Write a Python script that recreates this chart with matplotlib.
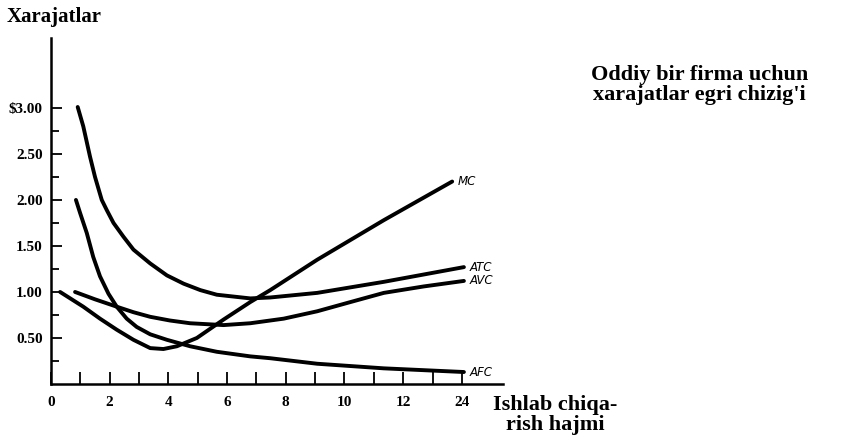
import matplotlib
matplotlib.use("Agg")
import matplotlib.pyplot as plt
from matplotlib.ticker import FixedLocator

# values (output, cost in $)
atc_q = [0.91, 1.10, 1.33, 1.50, 1.73, 1.90, 2.13, 2.47, 2.81, 3.38, 3.95, 4.52, 5.09,
         5.65, 6.79, 7.47, 9.07, 11.34, 14.07]
atc_c = [3.01, 2.80, 2.47, 2.25, 2.00, 1.89, 1.75, 1.60, 1.46, 1.31, 1.18, 1.09, 1.02,
         0.97, 0.93, 0.94, 0.99, 1.11, 1.27]

avc_q = [0.82, 1.50, 2.24, 2.81, 3.38, 4.05, 4.74, 5.88, 6.79, 7.93, 9.07, 10.2, 11.34, 12.7, 14.07]
avc_c = [1.00, 0.92, 0.84, 0.78, 0.73, 0.69, 0.66, 0.64, 0.66, 0.71, 0.79, 0.89, 0.99, 1.06, 1.12]

mc_q = [0.31, 1.10, 1.67, 2.24, 2.81, 3.38, 3.83, 4.29, 4.97, 5.88, 6.79, 7.47, 9.07,
        11.34, 13.67]
mc_c = [1.00, 0.84, 0.71, 0.59, 0.48, 0.39, 0.38, 0.41, 0.50, 0.70, 0.89, 1.02, 1.35,
        1.78, 2.20]

afc_q = [0.85, 0.99, 1.22, 1.44, 1.67, 1.96, 2.24, 2.58, 2.92, 3.38, 3.95, 4.74, 5.65,
         6.79, 7.47, 9.07, 11.34, 14.07]
afc_c = [2.00, 1.86, 1.64, 1.38, 1.17, 0.98, 0.84, 0.71, 0.62, 0.54, 0.48, 0.41, 0.35,
         0.30, 0.28, 0.22, 0.17, 0.13]

y_ticks = [0.5, 1.0, 1.5, 2.0, 2.5, 3.0]
y_minor = [0.25, 0.75, 1.25, 1.75, 2.25, 2.75]
y_labels = ["0.50", "1.00", "1.50", "2.00", "2.50", "$3.00"]
x_ticks = [0, 2, 4, 6, 8, 10, 12, 14]
x_minor = [1, 3, 5, 7, 9, 11, 13]
x_labels = ["0", "2", "4", "6", "8", "10", "12", "24"]

serif = "Liberation Serif"

fig = plt.figure(figsize=(8.47, 4.36), dpi=100)
ax = fig.add_axes([0.0602, 0.1193, 0.5336, 0.7936])

lw = 2.8
for q, c in [(atc_q, atc_c), (avc_q, avc_c), (mc_q, mc_c), (afc_q, afc_c)]:
    ax.plot(q, c, color="black", lw=lw, solid_capstyle="round", solid_joinstyle="round")

# curve names at the right ends
for name, q, c in [("MC", mc_q, mc_c), ("ATC", atc_q, atc_c),
                   ("AVC", avc_q, avc_c), ("AFC", afc_q, afc_c)]:
    ax.annotate(name, (q[-1], c[-1]), xytext=(4, 0), textcoords="offset points",
                fontsize=8.5, style="italic", va="center", ha="left", family="DejaVu Sans")

ax.set_xlim(0, 15.4)
ax.set_ylim(0, 3.76)
ax.spines["top"].set_visible(False)
ax.spines["right"].set_visible(False)
ax.spines["left"].set_linewidth(1.8)
ax.spines["bottom"].set_linewidth(1.8)

ax.set_yticks(y_ticks)
ax.set_yticklabels(y_labels)
ax.yaxis.set_minor_locator(FixedLocator(y_minor))
ax.set_xticks(x_ticks)
ax.set_xticklabels(x_labels)
ax.xaxis.set_minor_locator(FixedLocator(x_minor))
ax.tick_params(axis="y", which="major", direction="in", length=8, width=1.3, pad=6)
ax.tick_params(axis="y", which="minor", direction="in", length=6, width=1.3)
ax.tick_params(axis="x", which="major", direction="in", length=9, width=1.3, pad=9)
ax.tick_params(axis="x", which="minor", direction="in", length=9, width=1.3)
for lab in ax.get_xticklabels() + ax.get_yticklabels():
    lab.set_fontfamily(serif)
    lab.set_fontweight("bold")
    lab.set_fontsize(11)

fig.text(0.008, 0.962, "Xarajatlar", family=serif, weight="bold", fontsize=15,
         ha="left", va="center")
fig.text(0.826, 0.805, "Oddiy bir firma uchun\nxarajatlar egri chizig'i", family=serif,
         weight="bold", fontsize=16, ha="center", va="center", linespacing=0.95)
fig.text(0.582, 0.048, "Ishlab chiqa-\nrish hajmi", family=serif, weight="bold",
         fontsize=16, ha="left", va="center", linespacing=1.0, multialignment="center")

fig.savefig("out.png", dpi=100)
